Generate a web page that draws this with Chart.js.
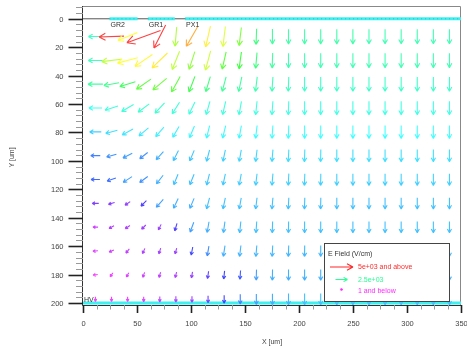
<!DOCTYPE html>
<html lang="en">
<head>
<meta charset="UTF-8">
<title>E Field</title>
<script src="https://cdn.jsdelivr.net/npm/chart.js"></script>
<style>
  body { margin: 0; background: #fff; }
  canvas { display: block; }
</style>
</head>
<body>
<canvas id="fieldChart" width="467" height="346"></canvas>
<script>
// sample grid [um]
const xPos = [11.5, 26.4, 41.3, 56.2, 71.1, 86.0, 100.9, 115.8, 130.7, 145.6, 160.5, 175.4,
              190.3, 205.2, 220.1, 235.0, 249.9, 264.8, 279.7, 294.6, 309.5, 324.4, 339.3];
const yPos = [12.5, 29.3, 46.0, 62.8, 79.6, 96.3, 113.1, 129.9, 146.6, 163.4, 180.2, 197.3];

// arrow direction, screen degrees (0 = right, 90 = down), one row per yPos
const fieldAngle = [
  [180,178,158,160,117,95,120,103,97,97,92,90,90,90,90,90,90,90,90,90,90,90,90],
  [180,173,165,146,136,112,108,105,103,98,95,92,90,90,90,90,90,90,90,90,90,90,90],
  [180,170,163,145,140,119,111,107,105,102,97,94,92,90,90,90,90,90,90,90,90,90,90],
  [180,162,150,143,133,122,116,106,103,100,96,94,92,90,90,90,90,90,90,90,90,90,90],
  [180,165,151,140,131,120,113,104,104,100,97,94,92,90,90,90,90,90,90,90,90,90,90],
  [180,165,152,142,132,117,113,105,102,100,97,95,93,92,91,90,90,90,90,90,90,90,90],
  [180,160,147,143,128,112,112,104,102,100,97,95,93,92,91,90,90,90,90,90,90,90,90],
  [180,163,145,135,132,115,113,105,102,100,97,95,93,92,91,90,90,90,90,90,90,90,90],
  [180,150,144,135,116,107,110,100,98,96,94,92,91,90,90,90,90,90,90,90,90,90,90],
  [175,155,129,114,108,106,101,100,99,97,95,93,92,91,90,90,90,90,90,90,90,90,90],
  [170,123,117,110,108,104,100,98,96,94,92,91,90,90,90,90,90,90,90,90,90,90,90],
  [90,90,90,90,90,90,90,90,90,90,90,90,90,90,90,90,90,90,90,90,90,90,90]
];

// field magnitude [V/cm]
const fieldMag = [
  [2300,5000,4000,7700,5200,3580,4420,4080,3830,3330,2670,2500,2450,2450,2450,2450,2450,2400,2400,2400,2400,2400,2400],
  [2350,3670,4000,4030,4100,3670,3420,3750,3170,3000,2670,2500,2400,2400,2400,2400,2400,2400,2400,2400,2400,2400,2400],
  [2500,2580,2830,3170,3250,3170,2920,2670,2530,2500,2420,2370,2330,2280,2280,2280,2280,2280,2280,2280,2280,2280,2280],
  [2080,2170,2200,2250,2250,2200,2170,2170,2170,2170,2150,2150,2130,2130,2130,2130,2130,2130,2130,2130,2130,2130,2130],
  [1750,1830,1870,1870,1920,1920,1950,1970,1970,1970,1980,2000,2000,2000,2000,2000,2000,2000,2000,2000,2000,2000,2000],
  [1330,1420,1500,1420,1580,1670,1700,1730,1750,1770,1790,1800,1820,1830,1830,1830,1830,1830,1830,1830,1830,1830,1830],
  [1200,1250,1500,1420,1580,1670,1670,1700,1720,1730,1740,1750,1750,1750,1750,1750,1750,1750,1750,1750,1750,1750,1750],
  [670,630,580,920,1500,1580,1580,1670,1670,1670,1670,1670,1670,1670,1670,1670,1670,1670,1670,1670,1670,1670,1670],
  [250,420,420,500,530,920,1500,1580,1620,1650,1670,1670,1670,1670,1670,1670,1670,1670,1670,1670,1670,1670,1670],
  [170,250,330,420,500,530,1030,1400,1580,1600,1620,1620,1620,1620,1620,1620,1620,1620,1620,1620,1620,1620,1620],
  [50,80,170,250,330,420,550,850,1030,1130,1500,1580,1580,1580,1580,1580,1580,1580,1580,1580,1580,1580,1580],
  [50,50,80,170,330,420,500,750,1000,1330,1500,1580,1620,1670,1670,1670,1670,1670,1670,1670,1670,1670,1670]
];

// electrodes on the top surface [um]
const electrodeNames = ['GR2', 'GR1', 'PX1'];
const electrodeStart = [24.5, 60, 94.5];
const electrodeEnd = [50.5, 85, 350];

const xTicks = [0, 50, 100, 150, 200, 250, 300, 350];
const yTicks = [0, 20, 40, 60, 80, 100, 120, 140, 160, 180, 200];

const legendValues = [5000, 2500, 1];
const legendLabels = ['5e+03 and above', '2.5e+03', '1 and below'];

const FONT = '"Liberation Sans", Arial, sans-serif';

// magnitude -> colour (magenta .. blue .. cyan .. green .. yellow .. red)
function fieldColor(e, light) {
  const h = Math.max(0, Math.min(300, 300 * (1 - e / 5000)));
  return 'hsl(' + h + ',100%,' + (light || 63) + '%)';
}
// magnitude -> arrow length in px
const lenStops = [[0, 4.5], [500, 6], [1000, 8], [2000, 13], [3000, 17], [5000, 25], [9000, 41]];
function arrowLen(e) {
  for (let i = 1; i < lenStops.length; i++) {
    const [e0, l0] = lenStops[i - 1], [e1, l1] = lenStops[i];
    if (e <= e1) return l0 + (l1 - l0) * (e - e0) / (e1 - e0);
  }
  return lenStops[lenStops.length - 1][1];
}

function drawArrow(ctx, cx, cy, ang, len, color) {
  const r = ang * Math.PI / 180;
  const dx = Math.cos(r) * len / 2, dy = Math.sin(r) * len / 2;
  const x1 = cx + dx, y1 = cy + dy;
  const h = Math.min(9, 1.8 + 0.22 * len);
  ctx.strokeStyle = color;
  ctx.lineWidth = 1.1;
  ctx.beginPath();
  ctx.moveTo(cx - dx, cy - dy);
  ctx.lineTo(x1, y1);
  [-0.5, 0.5].forEach(s => {
    const t = r + Math.PI + s;
    ctx.moveTo(x1, y1);
    ctx.lineTo(x1 + Math.cos(t) * h, y1 + Math.sin(t) * h);
  });
  ctx.stroke();
}

const fieldPoints = [];
yPos.forEach((y, r) => xPos.forEach((x, c) => {
  fieldPoints.push({ x: x, y: y, a: fieldAngle[r][c], e: fieldMag[r][c] });
}));

const datasets = [{
  label: 'field', data: fieldPoints, pointRadius: 0, showLine: false, order: 0
}];
electrodeNames.forEach((n, i) => {
  datasets.push({
    label: n + ' dots', type: 'line', order: 1,
    data: [{ x: electrodeStart[i], y: 0 }, { x: electrodeEnd[i], y: 0 }],
    borderColor: 'rgba(20,150,160,0.55)', borderWidth: 1, borderDash: [1, 3], pointRadius: 0
  });
  datasets.push({
    label: n, type: 'line', order: 2,
    data: [{ x: electrodeStart[i], y: 0 }, { x: electrodeEnd[i], y: 0 }],
    borderColor: '#3ff0f0', borderWidth: 3, pointRadius: 0
  });
});
datasets.push({
  label: 'HV', type: 'line', order: 2,
  data: [{ x: 0, y: 200 }, { x: 350, y: 200 }],
  borderColor: '#3ff0f0', borderWidth: 3, pointRadius: 0
});
datasets.push({
  label: 'surface', type: 'line', order: 3,
  data: [{ x: 0, y: 0 }, { x: 350, y: 0 }],
  borderColor: '#555', borderWidth: 1, pointRadius: 0
});

const axesPlugin = {
  id: 'axesPlugin',
  beforeDatasetsDraw(chart) {
    const ctx = chart.ctx, a = chart.chartArea;
    const xs = chart.scales.x, ys = chart.scales.y;
    ctx.save();
    ctx.lineWidth = 1;
    // frame
    ctx.strokeStyle = '#888';
    ctx.beginPath();
    ctx.moveTo(a.left, a.top + 0.5); ctx.lineTo(a.right - 0.5, a.top + 0.5); ctx.lineTo(a.right - 0.5, a.bottom);
    ctx.stroke();
    ctx.strokeStyle = '#333';
    ctx.beginPath();
    ctx.moveTo(a.left - 0.5, a.top); ctx.lineTo(a.left - 0.5, a.bottom + 0.5); ctx.lineTo(a.right, a.bottom + 0.5);
    ctx.stroke();
    // minor ticks
    ctx.strokeStyle = '#999';
    ctx.beginPath();
    for (let v = -8; v <= 200; v += 4) {
      const py = Math.round(ys.getPixelForValue(v)) + 0.5;
      ctx.moveTo(a.left - 7, py); ctx.lineTo(a.left, py);
    }
    for (let v = 0; v <= 350; v += 12.5) {
      const px = Math.round(xs.getPixelForValue(v)) + 0.5;
      ctx.moveTo(px, a.bottom); ctx.lineTo(px, a.bottom + 4.5);
    }
    ctx.stroke();
    // major ticks + labels
    ctx.strokeStyle = '#222';
    ctx.lineWidth = 1.6;
    ctx.fillStyle = '#444';
    ctx.font = '7.5px ' + FONT;
    ctx.textAlign = 'right';
    ctx.textBaseline = 'middle';
    yTicks.forEach(v => {
      const py = Math.round(ys.getPixelForValue(v)) + 0.5;
      ctx.beginPath(); ctx.moveTo(a.left - 14.5, py); ctx.lineTo(a.left, py); ctx.stroke();
      ctx.fillText(String(v), a.left - 19.5, py);
    });
    ctx.textAlign = 'center';
    xTicks.forEach(v => {
      const px = Math.round(xs.getPixelForValue(v)) + 0.5;
      ctx.beginPath(); ctx.moveTo(px, a.bottom); ctx.lineTo(px, a.bottom + 8); ctx.stroke();
      ctx.fillText(String(v), px, a.bottom + 19);
    });
    // axis titles
    ctx.font = '7px ' + FONT;
    ctx.fillText('X [um]', (a.left + a.right) / 2, a.bottom + 37.5);
    ctx.save();
    ctx.translate(12, 157.5);
    ctx.rotate(-Math.PI / 2);
    ctx.fillText('Y [um]', 0, 0);
    ctx.restore();
    ctx.restore();
  },
  afterDatasetsDraw(chart) {
    const ctx = chart.ctx, a = chart.chartArea;
    const xs = chart.scales.x, ys = chart.scales.y;
    ctx.save();
    ctx.beginPath();
    ctx.rect(a.left, a.top, a.right - a.left, a.bottom - a.top);
    ctx.clip();
    chart.getDatasetMeta(0).data.forEach((pt, i) => {
      const raw = fieldPoints[i];
      drawArrow(ctx, pt.x, pt.y, raw.a, arrowLen(raw.e), fieldColor(raw.e));
    });
    ctx.restore();
    // electrode labels
    ctx.save();
    ctx.fillStyle = '#333';
    ctx.font = '7px ' + FONT;
    ctx.textBaseline = 'middle';
    ctx.textAlign = 'left';
    electrodeNames.forEach((n, i) => {
      ctx.fillText(n, xs.getPixelForValue(electrodeStart[i]) + 1, ys.getPixelForValue(0) + 6);
    });
    ctx.fillText('HV', xs.getPixelForValue(0) + 1, ys.getPixelForValue(200) - 3);
    ctx.restore();
  },
  afterDraw(chart) {
    const ctx = chart.ctx;
    ctx.save();
    // legend box
    ctx.fillStyle = '#fff';
    ctx.fillRect(324.5, 243.5, 125, 58);
    ctx.strokeStyle = '#444';
    ctx.lineWidth = 1;
    ctx.strokeRect(324.5, 243.5, 125, 58);
    ctx.font = '7px ' + FONT;
    ctx.textBaseline = 'middle';
    ctx.textAlign = 'left';
    ctx.fillStyle = '#333';
    ctx.fillText('E Field (V/cm)', 328, 254.5);
    const rowsY = [267, 279.5, 289.5];
    const lens = [23, 12, 2.5];
    legendValues.forEach((v, i) => {
      drawArrow(ctx, 341.5, rowsY[i], 0, lens[i], fieldColor(v, 58));
      ctx.fillStyle = fieldColor(v, 58);
      ctx.fillText(legendLabels[i], 358, rowsY[i] + (i === 2 ? 1.5 : 0.5));
    });
    ctx.restore();
  }
};

new Chart(document.getElementById('fieldChart'), {
  type: 'scatter',
  data: { datasets: datasets },
  options: {
    responsive: false,
    animation: false,
    layout: { padding: { left: 83, right: 6, top: 6, bottom: 41 } },
    scales: {
      x: { type: 'linear', min: 0, max: 350, display: false },
      y: { type: 'linear', min: -9, max: 201.4, reverse: true, display: false }
    },
    plugins: { legend: { display: false }, tooltip: { enabled: false } }
  },
  plugins: [axesPlugin]
});
</script>
</body>
</html>
